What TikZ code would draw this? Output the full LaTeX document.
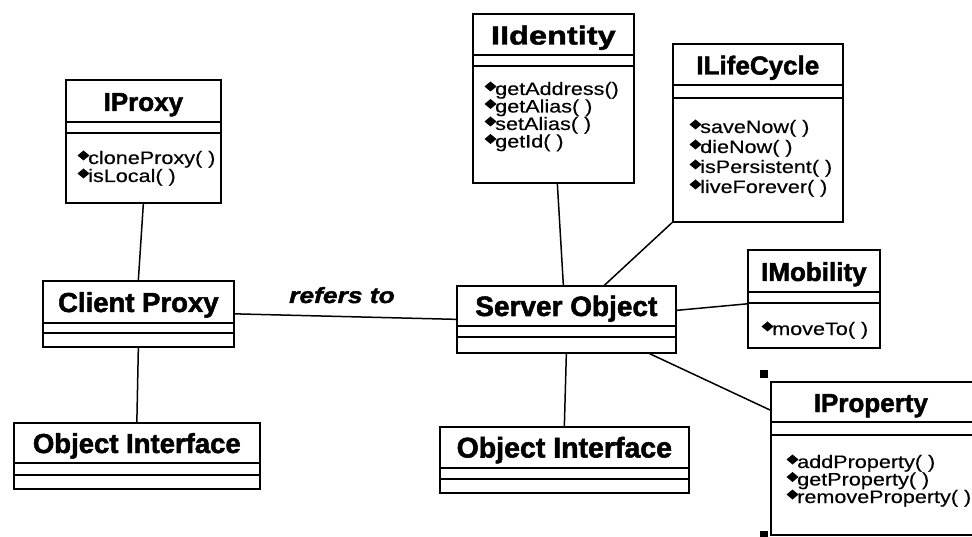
\documentclass[tikz,border=0pt]{standalone}
\usepackage{fontspec}
\setmainfont{Liberation Sans}
\newfontfamily\titlefont[FakeBold=1.8]{Liberation Sans}
\newfontfamily\widetitlefont[FakeStretch=1.25,FakeBold=1.8]{Liberation Sans}
\newfontfamily\methfont[FakeStretch=1.2,FakeBold=0.4]{Liberation Sans}
\newfontfamily\relfont[FakeStretch=1.2,FakeBold=1.8]{Liberation Sans}
\usetikzlibrary{calc}

\tikzset{
  box/.style={draw, line width=1.7pt, inner sep=0pt, anchor=north west, rectangle},
  divider/.style={line width=1.5pt},
  title/.style={font=\titlefont\bfseries\fontsize{26}{26}\selectfont, inner sep=0pt, anchor=base},
  meth/.style={font=\methfont\fontsize{18}{18}\selectfont, inner sep=0pt, anchor=base west},
  link/.style={line width=1.5pt},
  relation/.style={font=\relfont\bfseries\itshape\fontsize{22}{22}\selectfont, inner sep=0pt, anchor=base},
}

% \umlclass[title shift]{name}{x}{y}{width}{height}{title divider}{attribute divider}{title}
\newcommand\umlclass[9][0]{%
  \node[box, minimum width=#5pt, minimum height=#6pt] (#2) at (#3,#4) {};
  \draw[divider] ($(#2.north west)+(0,#7)$) -- ($(#2.north east)+(0,#7)$);
  \draw[divider] ($(#2.north west)+(0,#8)$) -- ($(#2.north east)+(0,#8)$);
  \node[title] (#2-t) at ($(#2.north)+(#1,{#7/2+10.5})$) {#9};
}

% \umlmethods{name}{indent}{first baseline}{line spacing}{list of operations}
% each operation gets a filled diamond in front of it
\newcommand\umlmethods[5]{%
  \foreach \m [count=\i from 0] in {#5} {
    \node[meth] (#1-m\i) at ($(#1.north west)+(#2+9,{#3+\i*#4})$) {\m};
    \coordinate (#1-d\i) at ($(#1-m\i.base west)+(-4.5,-8.5)$);
    \fill (#1-d\i) ++(-6,0) -- ++(6,-5) -- ++(6,5) -- ++(-6,5) -- cycle;
  }
}

\begin{document}
\begin{tikzpicture}[x=1pt, y=-1pt]
\useasboundingbox (0,0) rectangle (972,537);
\clip (0,0) rectangle (972,537);

% client side
\umlclass{prx}{65}{79}{155}{123}{43}{54}{IProxy}
\umlmethods{prx}{14}{85}{18}{cloneProxy( ), isLocal( )}

\umlclass{cli}{42}{280}{191}{66}{43}{53}{\fontsize{27.5}{27.5}\selectfont Client Proxy}
\umlclass{objl}{13}{422}{246}{66}{41}{53}{\fontsize{27.5}{27.5}\selectfont Object Interface}

% server side
\umlclass{srv}{456}{285}{219}{67}{41}{52}{\fontsize{28}{28}\selectfont Server Object}
\umlclass{objr}{439}{426}{249}{66}{42}{53}{\fontsize{28.5}{28.5}\selectfont Object Interface}

\umlclass{iid}{472}{13}{161}{169}{42}{53}{\widetitlefont IIdentity}
\umlmethods{iid}{14}{82}{17.5}{getAddress(), getAlias( ), setAlias( ), getId( )}

\umlclass{ilc}{672}{43}{170}{178}{42}{55}{ILifeCycle}
\umlmethods{ilc}{19}{90}{20}{saveNow( ), dieNow( ), isPersistent( ), liveForever( )}

\umlclass{imo}{747}{249}{132}{98}{43}{54}{IMobility}
\umlmethods{imo}{16}{86}{18}{moveTo( )}

\umlclass[-7.5]{ipr}{770}{381}{215}{153}{41}{54}{IProperty}
\umlmethods{ipr}{18}{87}{17.5}{addProperty( ), getProperty( ), removeProperty( )}

% selection handles on IProperty
\fill ($(ipr.north west)+(-10,-11)$) rectangle ++(8,8);
\fill ($(ipr.south west)+(-10,-5)$) rectangle ++(8,8);

% associations
\draw[link] (prx.south) -- (cli.north);
\draw[link] (cli.south) -- (objl.north);
\draw[link] (cli.east) -- (srv.west);
\node[relation] (rel) at (342,303) {refers to};
\draw[link] ($(iid.south)+(4,0)$) -- ($(srv.north)+(-3,0)$);
\draw[link] (ilc.south west) -- ($(srv.north east)+(-72,0)$);
\draw[link] ($(srv.east)+(0,-9)$) -- ($(imo.west)+(0,5)$);
\draw[link] (srv.south) -- (objr.north);
\draw[link] ($(srv.south east)+(-27,0)$) -- ($(ipr.north west)+(0,29)$);
\end{tikzpicture}
\end{document}
